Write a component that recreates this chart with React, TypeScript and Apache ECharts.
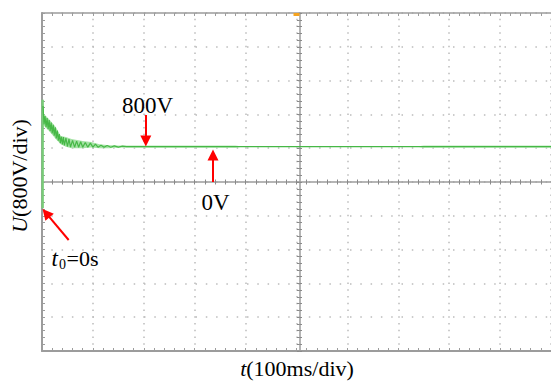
import React, { useEffect, useRef } from "react";
import * as echarts from "echarts";

// Time axis in divisions (100 ms/div), voltage in divisions (800 V/div)
const X_MIN = 0;
const X_MAX = 10;
const Y_MIN = -5;
const Y_MAX = 5;

// Step at t0
const stepX = [0.012, 0.012];
const stepY = [-0.78, 2.43];

// Noisy envelope of the initial transient
const bandX = [0.01, 0.04, 0.14, 0.27, 0.37, 0.47, 0.58, 0.8, 0.97, 1.13, 1.32, 1.51];
const bandUpper = [2.43, 2.01, 1.86, 1.63, 1.36, 1.33, 1.27, 1.21, 1.18, 1.12, 1.09, 1.065];
const bandLower = [2.13, 1.66, 1.51, 1.27, 1.12, 1.04, 1.0, 1.0, 1.02, 1.0, 1.0, 1.02];

// Noise envelope of the steady-state part
const flatX = [1.3, 3.8, 3.9, 7.4, 7.5, 10];
const flatUpper = [1.08, 1.08, 1.06, 1.06, 1.08, 1.08];
const flatLower = [1.01, 1.01, 1.035, 1.035, 1.01, 1.01];

// Main trace
const traceX = [
  0.02, 0.04, 0.06, 0.08, 0.1, 0.12, 0.14, 0.16, 0.18, 0.2, 0.22, 0.24, 0.26, 0.28, 0.3, 0.32,
  0.34, 0.36, 0.38, 0.4, 0.42, 0.44, 0.47, 0.5, 0.53, 0.56, 0.6, 0.64, 0.68, 0.72, 0.76, 0.8,
  0.85, 0.9, 0.95, 1.0, 1.05, 1.1, 1.16, 1.22, 1.28, 1.35, 1.42, 1.5, 1.58, 1.66, 10,
];
const traceY = [
  2.25, 1.7, 1.95, 1.62, 1.89, 1.56, 1.83, 1.5, 1.76, 1.44, 1.69, 1.37, 1.62, 1.29, 1.52, 1.22,
  1.42, 1.15, 1.34, 1.11, 1.33, 1.08, 1.3, 1.05, 1.27, 1.03, 1.23, 1.03, 1.21, 1.03, 1.19, 1.03,
  1.17, 1.03, 1.15, 1.03, 1.12, 1.03, 1.09, 1.03, 1.08, 1.03, 1.07, 1.03, 1.06, 1.045, 1.045,
];

// Arrow annotations [x1, y1, x2, y2] (tail -> head centre)
const arrow800 = [2.04, 1.98, 2.04, 1.21];
const arrow0 = [3.36, 0.0, 3.36, 0.8];
const arrowT0 = [0.524, -1.716, 0.08, -0.92];

// Trigger marker
const triggerPos = [5, 5];

const FONT = "'Liberation Serif', 'Times New Roman', Times, serif";
const GRID_COLOR = "#bcbcbc";
const AXIS_COLOR = "#9c9c9c";

export default function App() {
  const ref = useRef<HTMLDivElement>(null);

  useEffect(() => {
    if (!ref.current) return;
    const chart = echarts.init(ref.current, undefined, { renderer: "svg" });

    const polygonSeries = (xs: number[], up: number[], lo: number[], fill: string, z: number) => ({
      type: "custom",
      xAxisIndex: 0,
      yAxisIndex: 0,
      z,
      silent: true,
      data: [[xs[0], up[0]]],
      renderItem: (_p: any, api: any) => {
        const pts: number[][] = [];
        for (let i = 0; i < xs.length; i++) pts.push(api.coord([xs[i], up[i]]));
        for (let i = xs.length - 1; i >= 0; i--) pts.push(api.coord([xs[i], lo[i]]));
        return { type: "polygon", shape: { points: pts }, style: { fill } };
      },
    });

    const baseX = {
      type: "value",
      min: X_MIN,
      max: X_MAX,
      interval: 1,
      axisLabel: { show: false },
      splitLine: { show: false },
    };
    const baseY = {
      type: "value",
      min: Y_MIN,
      max: Y_MAX,
      interval: 1,
      axisLabel: { show: false },
      splitLine: { show: false },
    };

    const arrowLine = (a: number[]) => [
      { coord: [a[0], a[1]] },
      { coord: [a[2], a[3]] },
    ];

    chart.setOption({
      animation: false,
      backgroundColor: "#ffffff",
      grid: { left: 42, top: 13, width: 515, height: 338, containLabel: false },
      xAxis: [
        {
          ...baseX,
          position: "bottom",
          axisLine: { show: true, onZero: false, lineStyle: { color: AXIS_COLOR, width: 2 } },
          axisTick: { show: true, inside: true, length: 3, lineStyle: { color: AXIS_COLOR } },
          minorTick: { show: true, splitNumber: 5, length: 3, lineStyle: { color: AXIS_COLOR } },
          splitLine: {
            show: true,
            lineStyle: { color: GRID_COLOR, width: 1.5, type: [1.5, 5.26], dashOffset: 0.75 },
          },
        },
        {
          ...baseX,
          position: "top",
          axisLine: { show: true, onZero: false, lineStyle: { color: AXIS_COLOR, width: 1.5 } },
          axisTick: { show: true, inside: true, length: 3, lineStyle: { color: AXIS_COLOR } },
          minorTick: { show: true, splitNumber: 5, length: 3, lineStyle: { color: AXIS_COLOR } },
        },
        {
          ...baseX,
          position: "bottom",
          offset: -169,
          axisLine: { show: true, onZero: false, lineStyle: { color: AXIS_COLOR, width: 1.5 } },
          axisTick: { show: true, inside: true, length: 2.5, lineStyle: { color: "#8a8a8a" } },
          minorTick: { show: true, splitNumber: 5, length: 2.5, lineStyle: { color: "#8a8a8a" } },
        },
        {
          ...baseX,
          position: "bottom",
          offset: -169,
          axisLine: { show: false, onZero: false },
          axisTick: { show: true, inside: false, length: 2.5, lineStyle: { color: "#8a8a8a" } },
          minorTick: { show: true, splitNumber: 5, length: 2.5, lineStyle: { color: "#8a8a8a" } },
        },
      ],
      yAxis: [
        {
          ...baseY,
          position: "left",
          axisLine: { show: true, onZero: false, lineStyle: { color: AXIS_COLOR, width: 2 } },
          axisTick: { show: true, inside: true, length: 3, lineStyle: { color: AXIS_COLOR } },
          minorTick: { show: true, splitNumber: 5, length: 3, lineStyle: { color: AXIS_COLOR } },
          splitLine: {
            show: true,
            lineStyle: { color: GRID_COLOR, width: 1.5, type: [1.5, 8.8], dashOffset: 0.75 },
          },
        },
        {
          ...baseY,
          position: "left",
          offset: -257.5,
          axisLine: { show: true, onZero: false, lineStyle: { color: AXIS_COLOR, width: 1.5 } },
          axisTick: { show: true, inside: true, length: 2.5, lineStyle: { color: "#8a8a8a" } },
          minorTick: { show: true, splitNumber: 5, length: 2.5, lineStyle: { color: "#8a8a8a" } },
        },
        {
          ...baseY,
          position: "left",
          offset: -257.5,
          axisLine: { show: false, onZero: false },
          axisTick: { show: true, inside: false, length: 2.5, lineStyle: { color: "#8a8a8a" } },
          minorTick: { show: true, splitNumber: 5, length: 2.5, lineStyle: { color: "#8a8a8a" } },
        },
      ],
      series: [
        polygonSeries(bandX, bandUpper, bandLower, "#a6e2a6", 3),
        polygonSeries(flatX, flatUpper, flatLower, "#b4e8b4", 3),
        {
          type: "line",
          xAxisIndex: 0,
          yAxisIndex: 0,
          z: 4,
          data: stepX.map((x, i) => [x, stepY[i]]),
          showSymbol: false,
          symbol: "none",
          lineStyle: { color: "#78cc78", width: 2.5 },
          silent: true,
        },
        {
          type: "line",
          xAxisIndex: 0,
          yAxisIndex: 0,
          z: 5,
          data: traceX.map((x, i) => [x, traceY[i]]),
          showSymbol: false,
          symbol: "none",
          lineStyle: { color: "#46b846", width: 1.2 },
          silent: true,
          markPoint: {
            silent: true,
            symbol: "rect",
            symbolSize: [6, 3],
            symbolOffset: [0, 1.5],
            itemStyle: { color: "#f5a31f" },
            label: { show: false },
            data: [{ coord: triggerPos }],
          },
        },
        {
          type: "line",
          xAxisIndex: 0,
          yAxisIndex: 0,
          z: 6,
          data: [],
          silent: true,
          markLine: {
            silent: true,
            symbol: ["none", "triangle"],
            symbolSize: 11,
            label: { show: false },
            lineStyle: { color: "#ff0000", width: 2, type: "solid" },
            emphasis: { disabled: true },
            data: [arrowLine(arrow800), arrowLine(arrow0), arrowLine(arrowT0)],
          },
        },
      ],
      graphic: [
        {
          type: "text",
          x: 122,
          y: 105,
          z: 100,
          style: { text: "800V", fontFamily: FONT, fontSize: 23, fill: "#000", align: "left", verticalAlign: "middle" },
        },
        {
          type: "text",
          x: 201.5,
          y: 202.5,
          z: 100,
          style: { text: "0V", fontFamily: FONT, fontSize: 23, fill: "#000", align: "left", verticalAlign: "middle" },
        },
        {
          type: "text",
          x: 51.5,
          y: 258.5,
          z: 100,
          style: { text: "t", fontFamily: FONT, fontSize: 23, fontStyle: "italic", fill: "#000", align: "left", verticalAlign: "middle" },
        },
        {
          type: "text",
          x: 59,
          y: 264,
          z: 100,
          style: { text: "0", fontFamily: FONT, fontSize: 14, fill: "#000", align: "left", verticalAlign: "middle" },
        },
        {
          type: "text",
          x: 66.5,
          y: 258.5,
          z: 100,
          style: { text: "=0s", fontFamily: FONT, fontSize: 22, fill: "#000", align: "left", verticalAlign: "middle" },
        },
        {
          type: "text",
          x: 297,
          y: 368,
          z: 100,
          style: {
            text: "{i|t}{n|(100ms/div)}",
            fontFamily: FONT,
            fontSize: 22,
            fill: "#000",
            align: "center",
            verticalAlign: "middle",
            rich: {
              i: { fontFamily: FONT, fontSize: 22, fontStyle: "italic", fill: "#000" },
              n: { fontFamily: FONT, fontSize: 22, fill: "#000" },
            },
          },
        },
        {
          type: "text",
          x: 19,
          y: 176,
          rotation: Math.PI / 2,
          z: 100,
          style: {
            text: "{i|U}{n|(800V/div)}",
            fontFamily: FONT,
            fontSize: 22,
            fill: "#000",
            align: "center",
            verticalAlign: "middle",
            rich: {
              i: { fontFamily: FONT, fontSize: 22, fontStyle: "italic", fill: "#000" },
              n: { fontFamily: FONT, fontSize: 22, fill: "#000" },
            },
          },
        },
      ],
    });

    return () => chart.dispose();
  }, []);

  return (
    <div
      ref={ref}
      style={{ position: "fixed", left: 0, top: 0, width: 551, height: 382, background: "#fff" }}
    />
  );
}
